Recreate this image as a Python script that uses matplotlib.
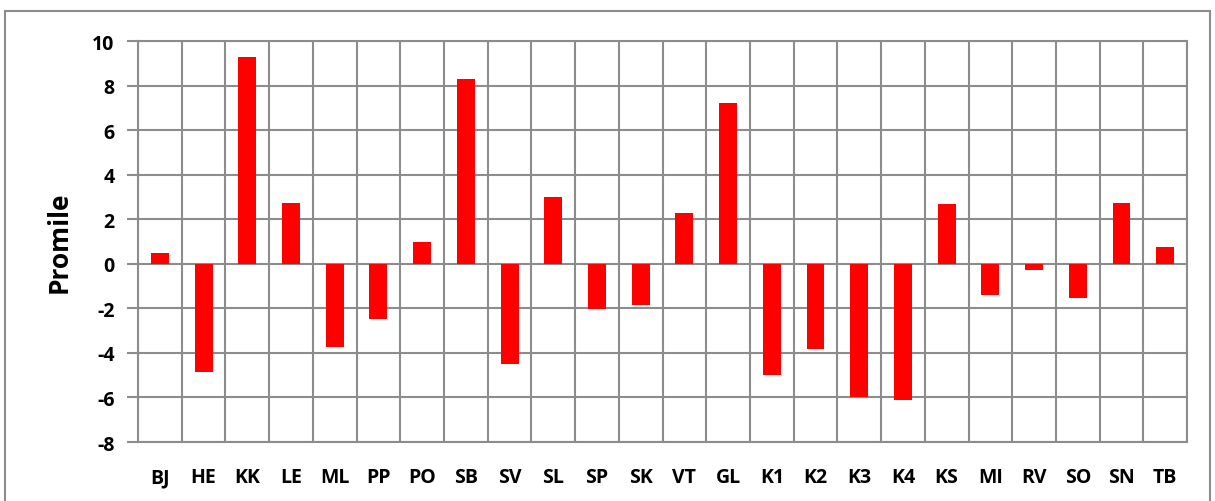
import matplotlib.pyplot as plt
from matplotlib.patches import Rectangle
import numpy as np

categories = ['BJ', 'HE', 'KK', 'LE', 'ML', 'PP', 'PO', 'SB', 'SV', 'SL', 'SP', 'SK',
              'VT', 'GL', 'K1', 'K2', 'K3', 'K4', 'KS', 'MI', 'RV', 'SO', 'SN', 'TB']
values = [0.48, -4.85, 9.3, 2.72, -3.72, -2.5, 0.97, 8.3, -4.5, 3.0, -2.05, -1.85,
          2.27, 7.2, -4.98, -3.82, -6.0, -6.1, 2.68, -1.4, -0.28, -1.53, 2.72, 0.75]
yticks = [-8, -6, -4, -2, 0, 2, 4, 6, 8, 10]

plt.rcParams['font.family'] = ['Open Sans', 'DejaVu Sans']
grid_color = '#8c8c8c'

fig = plt.figure(figsize=(12.15, 5.02), dpi=100)
ax = fig.add_axes([0.1136, 0.1175, 0.977 - 0.1136, 0.9163 - 0.1175])

x = np.arange(len(categories))
ax.bar(x, values, width=0.41, color='#ff0000', zorder=3)

ax.set_xlim(-0.5, len(categories) - 0.5)
ax.set_ylim(-8, 10)
ax.set_yticks(yticks)
ax.set_yticklabels([str(v) for v in yticks], fontsize=14, fontweight='bold')
ax.set_xticks(x)
ax.set_xticklabels(categories, fontsize=14, fontweight='bold')

# category boundaries as vertical grid lines
ax.set_xticks(np.arange(len(categories) + 1) - 0.5, minor=True)
ax.grid(True, which='minor', axis='x', color=grid_color, linewidth=1.5, zorder=0)
ax.grid(True, which='major', axis='y', color=grid_color, linewidth=1.5, zorder=0)
ax.tick_params(axis='x', which='both', length=0, pad=18)
ax.tick_params(axis='y', length=8, width=1.5, color=grid_color, pad=9)

for s in ax.spines.values():
    s.set_color(grid_color)
    s.set_linewidth(1.5)

ax.set_ylabel('Promile', fontsize=19, fontweight='bold', labelpad=14)

# outer chart frame
fig.patches.append(Rectangle((5 / 1215, -0.05), (1210 - 5) / 1215, 1.05 - 12 / 502,
                             transform=fig.transFigure, fill=False,
                             edgecolor='#8c8c8c', linewidth=1.5))

fig.savefig('out.png', dpi=100)
